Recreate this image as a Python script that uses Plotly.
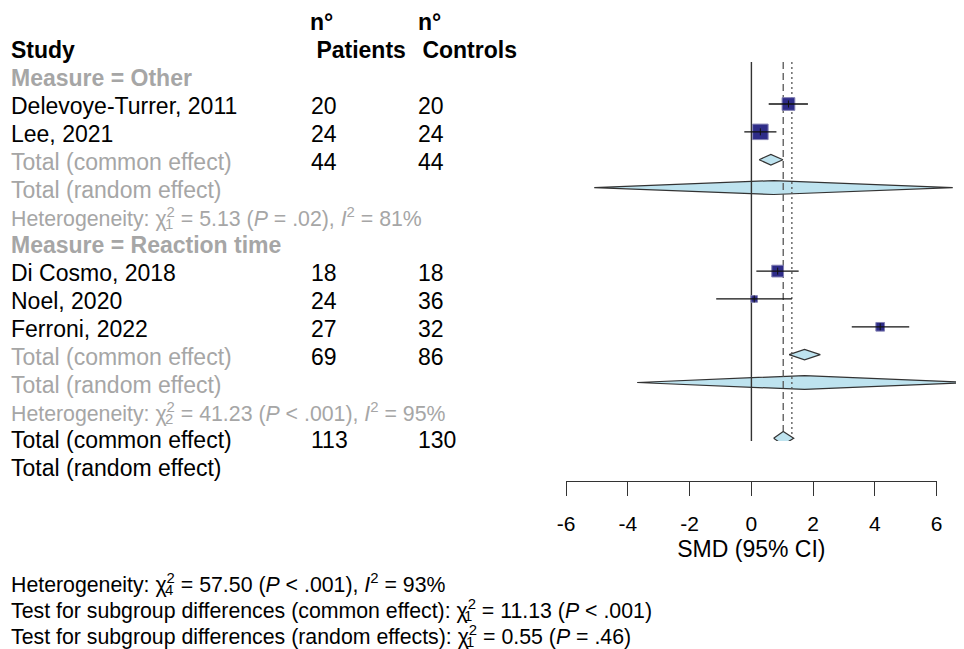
import math
import plotly.graph_objects as go

# ---------------- data ----------------
studies = ["Delevoye-Turrer, 2011", "Lee, 2021", "Di Cosmo, 2018", "Noel, 2020", "Ferroni, 2022"]
study_group = ["Other", "Other", "Reaction time", "Reaction time", "Reaction time"]
n_patients = [20, 24, 18, 24, 27]
n_controls = [20, 24, 18, 36, 32]
smd = [1.20, 0.29, 0.85, 0.09, 4.17]
ci_lower = [0.56, -0.23, 0.16, -1.14, 3.25]
ci_upper = [1.83, 0.81, 1.53, 1.31, 5.11]

groups = ["Other", "Reaction time"]
group_n_patients = [44, 69]
group_n_controls = [44, 86]
group_common = [0.63, 1.72]
group_common_lower = [0.25, 1.22]
group_common_upper = [1.02, 2.23]
group_random = [0.72, 1.72]
group_random_lower = [-5.09, -3.70]
group_random_upper = [6.52, 7.14]
group_het_chi2 = ["5.13", "41.23"]
group_het_df = ["1", "2"]
group_het_p = ["= .02", "< .001"]
group_het_i2 = ["81", "95"]

total_n_patients = 113
total_n_controls = 130
overall_common = [1.03, 0.72, 1.37]    # estimate, lower, upper
overall_random = [1.31, -0.73, 3.37]
overall_het = ["57.50", "4", "< .001", "93"]          # chi2, df, P, I2
subgroup_test_common = ["11.13", "1", "< .001"]       # chi2, df, P
subgroup_test_random = ["0.55", "1", "= .46"]

tick_values = [-6, -4, -2, 0, 2, 4, 6]
tick_labels = ["-6", "-4", "-2", "0", "2", "4", "6"]

# ---------------- layout constants (target picture pixels) ----------------
FW, FH = 962, 641                     # figure size
A_X, S_X = 16.4, 0.9856               # picture x = A_X + S_X * figure x
OFF_Y = 8                             # picture y = OFF_Y + figure y
ROW0, ROW_H = 20.45, 27.85            # picture-pixel centre of row 0, row pitch
X0_PIX, PX_PER = 751.7, 30.92         # picture pixel of SMD = 0, pixels per SMD unit
AXIS_Y = 481                          # picture pixel of the SMD axis line
FONT = "Liberation Sans, Arial, Helvetica, sans-serif"
BODY, HET, BOT = 23, 21.3, 21.3
GREY = "#A6A6A6"
SQ_FILL, SQ_EDGE = "#2E2C88", "#8482B4"
DIA_FILL, DIA_EDGE = "#BEE3EF", "#333333"
X_STUDY, X_PAT, X_CTL = 10, 310.8, 417.8

# Arial / Liberation Sans advance widths (1/1000 em) for placing stacked indices
AW = {' ': 278, '(': 333, ')': 333, ':': 278, 'T': 611, 'H': 722, 'a': 556, 'b': 556,
      'c': 500, 'd': 556, 'e': 556, 'f': 278, 'g': 556, 'i': 222, 'm': 833, 'n': 556,
      'o': 556, 'p': 556, 'r': 333, 's': 500, 't': 278, 'u': 556, 'y': 500, 'χ': 580}


def text_w(s, fs):
    return sum(AW.get(c, 556) for c in s) * fs / 1000.0


def fx(xp):
    """picture x -> figure x (pixels)"""
    return (xp - A_X) / S_X


def px(xp):
    return fx(xp) / FW


def smd_at_fig(fxv):
    return (A_X + S_X * fxv - X0_PIX) / PX_PER


fig = go.Figure()
ann = []


def txt(xp, row, text, size=BODY, color="black", yshift=-2):
    ann.append(dict(x=px(xp), xref="paper", y=row, yref="y", text=text, showarrow=False,
                    xanchor="left", yanchor="middle", borderpad=0, borderwidth=0,
                    font=dict(family=FONT, size=size, color=color), yshift=yshift))


def chi_line(xp, row, prefix, chi2, df, rest, size, color):
    txt(xp, row, f"{prefix}χ<sup>2</sup> = {chi2} {rest}", size=size, color=color)
    sub_fx = fx(xp) + text_w(prefix + "χ", size)
    small = size * 0.7
    ann.append(dict(x=sub_fx / FW, xref="paper", y=row, yref="y", text=df, showarrow=False,
                    xanchor="left", yanchor="middle", borderpad=0, borderwidth=0,
                    font=dict(family=FONT, size=small, color=color),
                    yshift=-2 - size * 0.314))


def diamond(est, lo, hi, row, half):
    fig.add_trace(go.Scatter(x=[lo, est, hi, est, lo], y=[row, row - half, row, row + half, row],
                             mode="lines", fill="toself", fillcolor=DIA_FILL,
                             line=dict(color=DIA_EDGE, width=1.2), hoverinfo="skip",
                             showlegend=False))


# headers
txt(X_PAT - 0.6, 0, "<b>n°</b>")
txt(X_CTL, 0, "<b>n°</b>")
txt(X_STUDY, 1, "<b>Study</b>")
txt(X_PAT - 0.6, 1, "<b>\u00a0Patients</b>")
txt(X_CTL - 1.5, 1, "<b>\u00a0Controls</b>")

# weights -> square size (area proportional to inverse-variance weight)
se = [(u - l) / 3.92 for l, u in zip(ci_lower, ci_upper)]
wts = [1 / s ** 2 for s in se]
sizes = [15.5 * math.sqrt(w / max(wts)) for w in wts]

row = 2
study_rows = []
for gi, g in enumerate(groups):
    txt(X_STUDY, row, f"<b>Measure = {g}</b>", color=GREY)
    row += 1
    for i, s in enumerate(studies):
        if study_group[i] != g:
            continue
        txt(X_STUDY, row, s)
        txt(X_PAT, row, str(n_patients[i]))
        txt(X_CTL, row, str(n_controls[i]))
        study_rows.append((i, row))
        row += 1
    txt(X_STUDY, row, "Total (common effect)", color=GREY)
    txt(X_PAT, row, str(group_n_patients[gi]))
    txt(X_CTL, row, str(group_n_controls[gi]))
    diamond(group_common[gi], group_common_lower[gi], group_common_upper[gi], row, 0.19)
    row += 1
    txt(X_STUDY, row, "Total (random effect)", color=GREY)
    diamond(group_random[gi], group_random_lower[gi], group_random_upper[gi], row, 0.25)
    row += 1
    chi_line(X_STUDY, row, "Heterogeneity: ", group_het_chi2[gi], group_het_df[gi],
             f"(<i>P</i> {group_het_p[gi]}), <i>I</i><sup>2</sup> = {group_het_i2[gi]}%",
             HET, GREY)
    row += 1

common_row = row
txt(X_STUDY, row, "Total (common effect)")
txt(X_PAT, row, str(total_n_patients))
txt(X_CTL, row, str(total_n_controls))
row += 1
random_row = row
txt(X_STUDY, row, "Total (random effect)")

axis_row = (AXIS_Y - ROW0) / ROW_H
top_row = (62 - ROW0) / ROW_H

# reference lines
fig.add_trace(go.Scatter(x=[0, 0], y=[top_row, axis_row], mode="lines",
                         line=dict(color="#333333", width=1.4), hoverinfo="skip", showlegend=False))
fig.add_trace(go.Scatter(x=[overall_common[0]] * 2, y=[top_row, common_row - 0.25], mode="lines",
                         line=dict(color="#555555", width=1.3, dash="7px,4px"),
                         hoverinfo="skip", showlegend=False))
fig.add_trace(go.Scatter(x=[overall_random[0]] * 2, y=[top_row, random_row - 0.26], mode="lines",
                         line=dict(color="#555555", width=1.3, dash="2px,3px"),
                         hoverinfo="skip", showlegend=False))

diamond(overall_common[0], overall_common[1], overall_common[2], common_row, 0.24)
diamond(overall_random[0], overall_random[1], overall_random[2], random_row, 0.26)

# study squares + CI
for i, r in study_rows:
    fig.add_trace(go.Scatter(x=[smd[i]], y=[r], mode="markers",
                             marker=dict(symbol="square", size=sizes[i], color=SQ_FILL,
                                         line=dict(color=SQ_EDGE, width=1)),
                             hoverinfo="skip", showlegend=False))
    fig.add_trace(go.Scatter(x=[ci_lower[i], ci_upper[i]], y=[r, r], mode="lines",
                             line=dict(color="#111111", width=1.3), hoverinfo="skip",
                             showlegend=False))
    fig.add_trace(go.Scatter(x=[smd[i]], y=[r], mode="markers",
                             marker=dict(symbol="line-ns", size=5,
                                         line=dict(color="#111111", width=1)),
                             hoverinfo="skip", showlegend=False))

# bottom statistics
bot_rows = [(581.5 - ROW0) / ROW_H, (607.5 - ROW0) / ROW_H, (633.5 - ROW0) / ROW_H]
chi_line(X_STUDY, bot_rows[0], "Heterogeneity: ", overall_het[0], overall_het[1],
         f"(<i>P</i> {overall_het[2]}), <i>I</i><sup>2</sup> = {overall_het[3]}%", BOT, "black")
chi_line(X_STUDY, bot_rows[1], "Test for subgroup differences (common effect): ",
         subgroup_test_common[0], subgroup_test_common[1],
         f"(<i>P</i> {subgroup_test_common[2]})", BOT, "black")
chi_line(X_STUDY, bot_rows[2], "Test for subgroup differences (random effects): ",
         subgroup_test_random[0], subgroup_test_random[1],
         f"(<i>P</i> {subgroup_test_random[2]})", BOT, "black")

# dummy trace for the visible SMD axis
fig.add_trace(go.Scatter(x=tick_values, y=[0] * len(tick_values), xaxis="x2", yaxis="y2",
                         mode="markers", marker=dict(opacity=0), hoverinfo="skip",
                         showlegend=False))

fig.update_layout(
    width=FW, height=FH, margin=dict(l=0, r=0, t=0, b=0, pad=0),
    paper_bgcolor="white", plot_bgcolor="white",
    font=dict(family=FONT, color="black"),
    annotations=ann, showlegend=False,
    xaxis=dict(range=[smd_at_fig(0), smd_at_fig(FW)], domain=[0, 1], visible=False,
               fixedrange=True),
    yaxis=dict(range=[(OFF_Y + FH - ROW0) / ROW_H, (OFF_Y - ROW0) / ROW_H], domain=[0, 1],
               visible=False, fixedrange=True),
    xaxis2=dict(domain=[px(X0_PIX - 6 * PX_PER), px(X0_PIX + 6 * PX_PER)], anchor="y2",
                range=[-6, 6], tickvals=tick_values, ticktext=tick_labels,
                ticks="outside", ticklen=14, tickwidth=1.3, tickcolor="#333333",
                showline=True, linecolor="#333333", linewidth=1.3, showgrid=False,
                zeroline=False, tickfont=dict(family=FONT, size=21, color="black"),
                ticklabelstandoff=10,
                title=dict(text="SMD (95% CI)", font=dict(family=FONT, size=23, color="black"),
                           standoff=6)),
    yaxis2=dict(domain=[1 - (AXIS_Y - OFF_Y) / FH, 1 - (AXIS_Y - 40 - OFF_Y) / FH],
                anchor="x2", visible=False, range=[-1, 1]),
)

fig.write_html("out.html")
